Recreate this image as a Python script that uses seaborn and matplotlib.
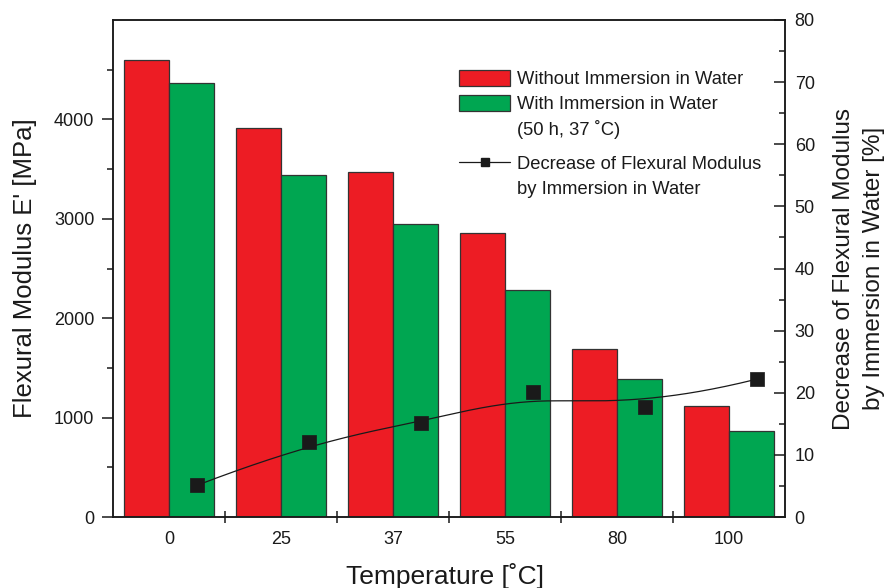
import numpy as np
import pandas as pd
import matplotlib
matplotlib.use("Agg")
import matplotlib.pyplot as plt
import seaborn as sns
from matplotlib.patches import Patch
from matplotlib.lines import Line2D
from matplotlib.ticker import FixedLocator

# ---------------- data ----------------
temperatures = ["0", "25", "37", "55", "80", "100"]
modulus_dry = [4600, 3910, 3470, 2860, 1690, 1120]
modulus_wet = [4370, 3440, 2950, 2285, 1385, 870]
decrease_pct = [5.1, 12.0, 15.1, 20.1, 17.7, 22.2]
series_names = ["Without Immersion in Water", "With Immersion in Water"]
condition_note = "(50 h, 37 ˚C)"
line_label = ["Decrease of Flexural Modulus", "by Immersion in Water"]
left_ticks = [0, 1000, 2000, 3000, 4000]
right_ticks = [0, 10, 20, 30, 40, 50, 60, 70, 80]

RED = "#ED1C24"
GREEN = "#00A651"
EDGE = "#333333"
INK = "#1a1a1a"

sns.set_theme(style="ticks")
plt.rcParams["font.family"] = ["Liberation Sans", "DejaVu Sans"]
plt.rcParams["text.color"] = INK
plt.rcParams["axes.labelcolor"] = INK
plt.rcParams["xtick.color"] = INK
plt.rcParams["ytick.color"] = INK

df = pd.DataFrame({
    "Temperature": temperatures * 2,
    "Modulus": modulus_dry + modulus_wet,
    "Series": [series_names[0]] * len(temperatures) + [series_names[1]] * len(temperatures),
})

fig = plt.figure(figsize=(8.84, 5.88), dpi=100)
ax = fig.add_axes([113 / 884, 71 / 588, 672 / 884, 497 / 588])

sns.barplot(data=df, x="Temperature", y="Modulus", hue="Series",
            order=temperatures, hue_order=series_names,
            palette=[RED, GREEN], saturation=1, width=0.8,
            edgecolor=EDGE, linewidth=0.9, legend=False, ax=ax)

ax.set_xlim(-0.5, len(temperatures) - 0.5)
ax.set_ylim(0, 5000)
ax.set_yticks(left_ticks)
ax.yaxis.set_minor_locator(FixedLocator([t + 500 for t in left_ticks]))
ax.xaxis.set_minor_locator(FixedLocator([i + 0.5 for i in range(len(temperatures) - 1)]))

ax.tick_params(axis="y", which="major", direction="out", length=8, width=1.1, pad=5.5, labelsize=13)
ax.tick_params(axis="y", which="minor", direction="out", length=4.5, width=1.1)
ax.tick_params(axis="x", which="major", length=0, pad=10, labelsize=13)
ax.tick_params(axis="x", which="minor", direction="inout", length=9, width=1.1)
ax.tick_params(top=False, which="both")

ax.set_xlabel("Temperature [˚C]", fontsize=19)
ax.xaxis.set_label_coords(0.494, -0.092)
ax.set_ylabel("Flexural Modulus E' [MPa]", fontsize=18.5)
ax.yaxis.set_label_coords(-0.113, 0.5)

for sp in ax.spines.values():
    sp.set_linewidth(1.1)
    sp.set_color(INK)

# ---------------- secondary axis ----------------
ax2 = ax.twinx()
ax2.set_ylim(0, 80)
ax2.set_yticks(right_ticks)
ax2.yaxis.set_minor_locator(FixedLocator([t + 5 for t in right_ticks[:-1]]))
ax2.tick_params(axis="y", which="major", direction="in", length=8, width=1.1, pad=7, labelsize=13)
ax2.tick_params(axis="y", which="minor", direction="in", length=4.5, width=1.1)
for sp in ax2.spines.values():
    sp.set_linewidth(1.1)
    sp.set_color(INK)

px = np.arange(len(temperatures)) + 0.25
py = np.asarray(decrease_pct, float)


def bspline_curve(cx, cy, degree=3, num=400):
    cx = np.asarray(cx, float)
    cy = np.asarray(cy, float)
    m = len(cx)
    inner = np.arange(1, m - degree)
    knots = np.concatenate([np.zeros(degree + 1), inner,
                            np.full(degree + 1, m - degree)]).astype(float)
    t = np.linspace(0, m - degree, num)
    N = np.zeros((len(knots) - 1, num))
    for i in range(len(knots) - 1):
        N[i] = ((knots[i] <= t) & (t < knots[i + 1])).astype(float)
    last = np.where(knots[:-1] < knots[1:])[0][-1]
    N[last, -1] = 1.0
    for d in range(1, degree + 1):
        Nn = np.zeros((len(knots) - 1 - d, num))
        for i in range(len(knots) - 1 - d):
            a = 0.0
            b = 0.0
            den1 = knots[i + d] - knots[i]
            den2 = knots[i + d + 1] - knots[i + 1]
            if den1 > 0:
                a = (t - knots[i]) / den1 * N[i]
            if den2 > 0:
                b = (knots[i + d + 1] - t) / den2 * N[i + 1]
            Nn[i] = a + b
        N = Nn
    return N.T @ cx, N.T @ cy


sx, sy = bspline_curve(px, py)
sns.lineplot(x=sx, y=sy, sort=False, color=INK, linewidth=0.9, ax=ax2, legend=False)
sns.scatterplot(x=px, y=py, marker="s", s=100, color=INK, edgecolor=INK,
                linewidth=0.5, ax=ax2, legend=False, zorder=5)
ax2.set_ylabel("Decrease of Flexural Modulus\nby Immersion in Water [%]",
               fontsize=17.5, multialignment="center", linespacing=1.45)
ax2.yaxis.set_label_coords(1.0715, 0.5)

# ---------------- legends ----------------
h_red = Patch(facecolor=RED, edgecolor=EDGE, linewidth=0.9)
h_green = Patch(facecolor=GREEN, edgecolor=EDGE, linewidth=0.9)
h_blank = Patch(facecolor="none", edgecolor="none")
h_line = Line2D([], [], color=INK, lw=0.9, marker="s", markersize=6,
                markerfacecolor=INK, markeredgecolor=INK)

common = dict(loc="upper left", frameon=False, fontsize=13.2, handlelength=2.8,
              handleheight=0.94, handletextpad=0.38, labelspacing=0.37,
              borderpad=0, borderaxespad=0)
leg1 = ax2.legend([h_red, h_green, h_blank],
                  [series_names[0], series_names[1], condition_note],
                  bbox_to_anchor=(0.515, 0.899), **common)
ax2.add_artist(leg1)
leg2 = ax2.legend([h_line, h_blank], line_label,
                  bbox_to_anchor=(0.515, 0.729), **common)

fig.savefig("out.png", dpi=100)
